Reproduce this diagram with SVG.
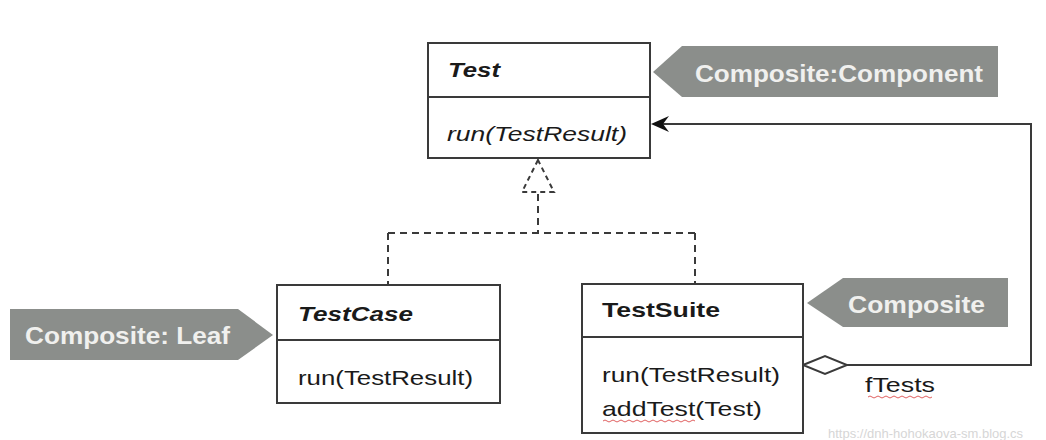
<svg xmlns="http://www.w3.org/2000/svg" width="1046" height="440" viewBox="0 0 1046 440">
<style>
.box{fill:#fff;stroke:#3a3a3a;stroke-width:2}
.div{stroke:#3a3a3a;stroke-width:2}
.t{font-family:"Liberation Sans",Arial,sans-serif;font-size:21px;fill:#1a1a1a}
.b{font-weight:bold}
.i{font-style:italic}
.tag{fill:#8b8e8b}
.tagt{font-family:"Liberation Sans",Arial,sans-serif;font-size:24px;font-weight:bold;fill:#f0f0ee}
.dash{fill:none;stroke:#3a3a3a;stroke-width:2;stroke-dasharray:7,5}
.line{fill:none;stroke:#3a3a3a;stroke-width:2}
.sq{fill:none;stroke:#e06060;stroke-width:1}
.head{fill:#111}
</style>
<rect width="1046" height="440" fill="#fff"/>
<g id="connectors">
<path class="dash" d="M538,194 V233 M388,233 H695 M388,233 V285 M695,233 V284"/>
<path d="M538,160 L522,192 L554,192 Z" fill="#fff" stroke="#3a3a3a" stroke-width="2" stroke-dasharray="5,4"/>
<path class="line" d="M847,365 H1031 V124 H660"/>
<path class="head" d="M651,124 L669,116 L663,124 L669,132 Z"/>
<path d="M803,365 L825,356 L847,365 L825,374 Z" fill="#fff" stroke="#3a3a3a" stroke-width="2"/>
<text class="t" x="865" y="392" textLength="70" lengthAdjust="spacingAndGlyphs">fTests</text>
<path class="sq" d="M868,397 q2,-2 4,0 t4,0 t4,0 t4,0 t4,0 t4,0 t4,0 t4,0 t4,0 t4,0 t4,0 t4,0 t4,0 t4,0 t4,0 t4,0"/>
</g>
<g id="test">
<rect class="box" x="428" y="43" width="222" height="115"/>
<line class="div" x1="428" y1="97" x2="650" y2="97"/>
<text class="t b i" x="448" y="77" font-size="22" textLength="52" lengthAdjust="spacingAndGlyphs">Test</text>
<text class="t i" x="447" y="141" textLength="180" lengthAdjust="spacingAndGlyphs">run(TestResult)</text>
</g>
<g id="testcase">
<rect class="box" x="277" y="285" width="223" height="118"/>
<line class="div" x1="277" y1="340" x2="500" y2="340"/>
<text class="t b i" x="298" y="321" textLength="115" lengthAdjust="spacingAndGlyphs">TestCase</text>
<text class="t" x="298" y="385" textLength="175" lengthAdjust="spacingAndGlyphs">run(TestResult)</text>
</g>
<g id="testsuite">
<rect class="box" x="582" y="284" width="221" height="149"/>
<line class="div" x1="582" y1="337" x2="803" y2="337"/>
<text class="t b" x="602" y="317" textLength="118" lengthAdjust="spacingAndGlyphs">TestSuite</text>
<text class="t" x="602" y="382" textLength="178" lengthAdjust="spacingAndGlyphs">run(TestResult)</text>
<text class="t" x="602" y="416" textLength="160" lengthAdjust="spacingAndGlyphs">addTest(Test)</text>
<path class="sq" d="M603,421 q2,-2 4,0 t4,0 t4,0 t4,0 t4,0 t4,0 t4,0 t4,0 t4,0 t4,0 t4,0 t4,0 t4,0 t4,0 t4,0 t4,0 t4,0 t4,0 t4,0 t4,0 t4,0 t4,0 t4,0"/>
</g>
<g id="tag-component">
<path class="tag" d="M653,72 L682,46 H998 V97 H682 Z"/>
<text class="tagt" x="695" y="82" textLength="288" lengthAdjust="spacingAndGlyphs">Composite:Component</text>
</g>
<g id="tag-leaf">
<path class="tag" d="M10,309 H238 L273,335 L238,360 H10 Z"/>
<text class="tagt" x="25" y="344" textLength="205" lengthAdjust="spacingAndGlyphs">Composite: Leaf</text>
</g>
<g id="tag-composite">
<path class="tag" d="M807,303 L843,278 H1008 V327 H843 Z"/>
<text class="tagt" x="848" y="313" textLength="137" lengthAdjust="spacingAndGlyphs">Composite</text>
</g>
<text x="828" y="438" font-family="'Liberation Sans',Arial,sans-serif" font-size="13" fill="#d6d6d6">https://dnh-hohokaova-sm.blog.cs</text>
</svg>
